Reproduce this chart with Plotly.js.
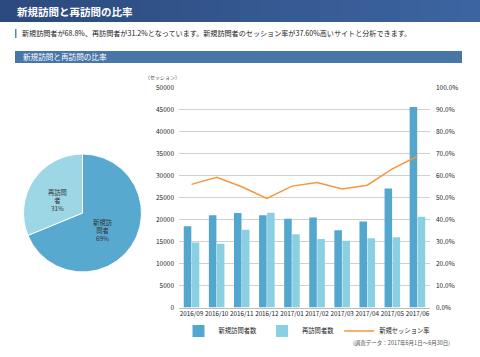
<!DOCTYPE html>
<html><head><meta charset="utf-8">
<script src="https://cdn.plot.ly/plotly-3.0.1.min.js"></script>
<style>html,body{margin:0;padding:0;background:#fff;}#chart{width:480px;height:357px;}</style>
</head><body><div id="chart"></div>
<script>
const months = ['2016/09','2016/10','2016/11','2016/12','2017/01','2017/02','2017/03','2017/04','2017/05','2017/06'];
const newVisitors = [18500, 21000, 21500, 21000, 20200, 20500, 17600, 19600, 27100, 45700];
const returnVisitors = [14800, 14500, 17700, 21600, 16700, 15600, 15200, 15800, 16000, 20700];
const newSessionRate = [56.1, 59.3, 55.0, 49.7, 55.3, 56.9, 54.0, 55.7, 63.2, 68.9];
const pieLabels = ['新規訪問者', '再訪問者'];
const pieText = ['新規訪<br>問者', '再訪問<br>者'];
const pieValues = [68.8, 31.2];
const seriesNames = ['新規訪問者数', '再訪問者数', '新規セッション率'];

const FONT = '"Noto Sans CJK JP", "Noto Sans", sans-serif';
const W = 480, H = 357;
const px = x => x / W;
const py = y => 1 - y / H;

const traces = [
  {type:'bar', x: months, y: newVisitors, name: seriesNames[0], marker:{color:'#53a7cf'}, xaxis:'x', yaxis:'y'},
  {type:'bar', x: months, y: returnVisitors, name: seriesNames[1], marker:{color:'#8ad0e2'}, xaxis:'x', yaxis:'y'},
  {type:'scatter', mode:'lines', x: months, y: newSessionRate, name: seriesNames[2], line:{color:'#f7963a', width:1.5}, xaxis:'x', yaxis:'y2'},
  {type:'pie', labels: pieLabels, values: pieValues, sort:false, direction:'clockwise', rotation:0,
   marker:{colors:['#57a9cf','#9dd7e6'], line:{color:'#fff', width:1}},
   textinfo:'none', showlegend:false, hoverinfo:'none',
   domain:{x:[px(23), px(142)], y:[py(272), py(154)]}}
];

const shapes = [];
const c0 = [44,74,126], c1 = [60,100,160];
const N = 24;
for (let i = 0; i < N; i++) {
  const t = i / (N - 1);
  const c = c0.map((v, k) => Math.round(v + (c1[k] - v) * t));
  shapes.push({type:'rect', xref:'paper', yref:'paper', x0: i / N, x1: (i + 1) / N + 0.002, y0: py(22), y1: 1,
    fillcolor:`rgb(${c.join(',')})`, line:{width:0}, layer:'below'});
}
shapes.push({type:'rect', xref:'paper', yref:'paper', x0: px(15), x1: px(16.5), y0: py(38), y1: py(29), fillcolor:'#4a86c8', line:{width:0}});
shapes.push({type:'rect', xref:'paper', yref:'paper', x0: px(15), x1: px(462), y0: py(63), y1: py(51), fillcolor:'#4876a8', line:{width:0}});

const total = pieValues.reduce((a, b) => a + b, 0);
const pieLabelPos = [[103, 230], [57, 200]];
const annotations = [
  {xref:'paper', yref:'paper', x: px(15), y: py(11), xanchor:'left', yanchor:'middle', showarrow:false,
   text:'<b>新規訪問と再訪問の比率</b>', font:{size:10.5, color:'#fff', family:FONT}},
  {xref:'paper', yref:'paper', x: px(20), y: py(33), xanchor:'left', yanchor:'middle', showarrow:false,
   text:'新規訪問者が68.8%、再訪問者が31.2%となっています。新規訪問者のセッション率が37.60%高いサイトと分析できます。',
   font:{size:7.1, color:'#222', family:FONT}},
  {xref:'paper', yref:'paper', x: px(21), y: py(57), xanchor:'left', yanchor:'middle', showarrow:false,
   text:'新規訪問と再訪問の比率', font:{size:7.6, color:'#fff', family:FONT}},
  {xref:'paper', yref:'paper', x: px(162), y: py(77), xanchor:'center', yanchor:'middle', showarrow:false,
   text:'（セッション）', font:{size:5, color:'#444', family:FONT}},
  {xref:'paper', yref:'paper', x: px(452), y: py(343), xanchor:'right', yanchor:'middle', showarrow:false,
   text:'(調査データ：2017年6月1日～6月30日)', font:{size:5.5, color:'#555', family:FONT}}
];
pieText.forEach((t, i) => {
  annotations.push({xref:'paper', yref:'paper', x: px(pieLabelPos[i][0]), y: py(pieLabelPos[i][1]),
    xanchor:'center', yanchor:'middle', showarrow:false, align:'center',
    text: t + '<br>' + Math.round(pieValues[i] / total * 100) + '%',
    font:{size:6.3, color:'#333', family:FONT}});
});

const layout = {
  width: W, height: H,
  margin:{l:0, r:0, t:0, b:0, pad:0},
  paper_bgcolor:'#fff', plot_bgcolor:'#fff',
  font:{family:FONT, size:6.5, color:'#222'},
  barmode:'group', bargap:0.36, bargroupgap:0.06,
  xaxis:{domain:[px(179), px(430)], type:'category', showgrid:false, showline:true, linecolor:'#bbb', linewidth:1,
    ticks:'', tickangle:0, tickfont:{size:6.3, color:'#222'}, fixedrange:true},
  yaxis:{domain:[py(307.5), py(88)], range:[0, 50000], dtick:5000, tickformat:'d', showgrid:true, gridcolor:'#d0d0d0',
    gridwidth:1, zeroline:false, showline:false, ticks:'', tickfont:{size:6.5, color:'#222'}, ticklabelstandoff:4},
  yaxis2:{overlaying:'y', side:'right', range:[0, 100], dtick:10, tickformat:'.1f', ticksuffix:'%', showgrid:false,
    zeroline:false, showline:false, ticks:'', tickfont:{size:6.5, color:'#222'}, ticklabelstandoff:5},
  legend:{orientation:'h', x: px(307), y: py(331), xanchor:'center', yanchor:'middle', font:{size:6.3, color:'#222'},
    bgcolor:'rgba(0,0,0,0)', itemwidth:30, tracegroupgap:0},
  shapes: shapes,
  annotations: annotations,
  showlegend:true
};

Plotly.newPlot('chart', traces, layout, {staticPlot:true, displayModeBar:false});
</script>
</body></html>
